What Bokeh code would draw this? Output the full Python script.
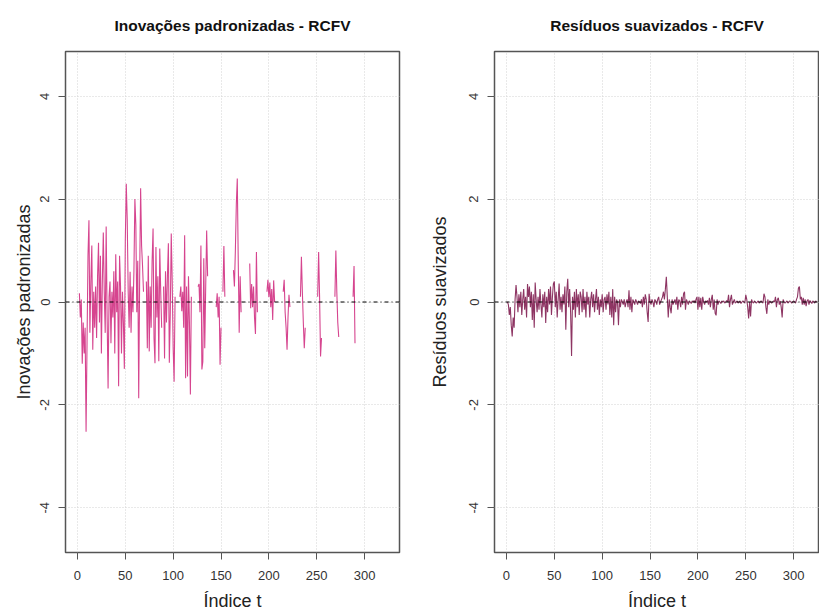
from bokeh.plotting import figure
from bokeh.layouts import row
from bokeh.models import Span, FixedTicker, Range1d, ColumnDataSource
from bokeh.embed import file_html
from bokeh.resources import INLINE

NA = float("nan")

# ---- data -------------------------------------------------------------
x_ticks = [0, 50, 100, 150, 200, 250, 300]
x_tick_labels = ["0", "50", "100", "150", "200", "250", "300"]
y_ticks = [-4, -2, 0, 2, 4]
y_tick_labels = ["-4", "-2", "0", "2", "4"]

t_index = list(range(1, 325))

# standardized innovations (t = 1..324), NaN = missing
innov = (
    [NA, 0.17, -0.3, 0.05, -1.2, -0.4, -1.0, -0.5, -2.52, -0.8] +
    [0.9, 1.59, -0.6, 0.4, 1.1, -0.93, 0.2, -0.5, 0.3, -0.7] +
    [0.5, 1.15, -0.4, 0.9, -1.0, 0.4, 1.35, 0.2, -0.6, 1.47] +
    [-0.3, -1.68, 0.1, 0.4, -0.8, 0.2, -0.3, 0.6, -1.0, 0.93] +
    [-0.2, 0.4, -1.64, 0.9, 0.3, -1.0, 0.2, -0.4, -1.3, 1.2] +
    [2.3, 1.6, 0.2, -0.5, 0.59, -0.6, 0.3, -0.2, 0.6, 2.0] +
    [1.5, -0.2, 0.8, -1.87, 0.5, 2.21, 1.1, 0.7, 0.2, NA] +
    [NA, 0.4, -0.9, 0.9, -0.96, 0.3, -0.5, 0.8, 1.43, -0.7] +
    [-1.19, 1.07, -0.3, 0.5, -1.15, 1.04, 0.2, -0.5, NA, 0.3] +
    [-1.1, 0.6, -0.4, 0.5, 1.14, -1.18, -0.2, 1.33, 0.4, -0.9] +
    [-1.55, 0.1, NA, NA, NA, NA, 0.1, 0.3, -0.18, 0.2] +
    [-0.5, 1.3, -1.48, 0.3, -1.45, 0.5, -0.4, -1.8, 0.1, NA] +
    [NA, NA, NA, NA, NA, 0.3, 0.35, -0.2, 1.1, -1.31] +
    [-1.16, 0.85, -0.9, 0.3, 1.39, 0.5, NA, NA, NA, NA] +
    [NA, NA, NA, NA, -0.1, 0.17, -0.3, 0.1, -1.22, -0.5] +
    [NA, 0.2, 1.09, 0.1, NA, NA, NA, NA, NA, NA] +
    [NA, NA, 0.62, 0.3, 1.0, 1.9, 2.4, 0.8, -0.6, 0.5] +
    [-0.2, NA, NA, NA, NA, NA, NA, NA, NA, 0.75] +
    [-0.12, 0.35, -0.1, 0.3, -0.3, -0.62, 0.97, -0.2, NA, NA] +
    [NA, NA, NA, NA, NA, NA, NA, 0.2, 0.43, 0.1] +
    [0.38, -0.1, 0.25, -0.35, 0.42, 0.0, NA, NA, NA, NA] +
    [NA, NA, NA, NA, 0.2, 0.43, -0.2, -0.5, -0.93, -0.3] +
    [0.14, -0.1, NA, NA, NA, NA, NA, NA, NA, NA] +
    [NA, NA, 0.1, 0.88, 0.2, -0.4, -0.9, -0.5, NA, NA] +
    [NA, NA, NA, NA, NA, NA, NA, NA, NA, NA] +
    [0.1, 0.97, 0.1, -1.06, -0.7, NA, NA, NA, NA, NA] +
    [NA, NA, NA, NA, NA, NA, NA, NA, 0.1, 1.0] +
    [0.2, -0.4, -0.68, NA, NA, NA, NA, NA, NA, NA] +
    [NA, NA, NA, NA, NA, NA, NA, 0.1, 0.7, -0.8] +
    [NA, NA, NA, NA, NA, NA, NA, NA, NA, NA] +
    [NA, NA, NA, NA, NA, NA, NA, NA, NA, NA] +
    [NA, NA, NA, NA, NA, NA, NA, NA, NA, NA] +
    [NA, NA, NA, NA]
)

# smoothed residuals (t = 1..324)
resid = (
    [0.0, -0.05, -0.25, -0.1, -0.45, -0.67, -0.3, -0.5, 0.05, 0.33] +
    [0.1, -0.2, 0.15, -0.1, 0.2, -0.25, 0.05, 0.25, -0.15, 0.1] +
    [-0.3, 0.35, 0.1, 0.3, -0.1, 0.2, -0.35, 0.15, -0.5, 0.38] +
    [0.05, -0.2, 0.1, -0.15, 0.25, -0.05, -0.3, 0.15, -0.1, 0.2] +
    [-0.41, 0.1, -0.2, 0.25, -0.05, 0.3, -0.25, 0.1, 0.35, 0.4] +
    [-0.1, 0.2, -0.3, 0.05, 0.36, -0.15, 0.1, -0.2, 0.15, -0.05] +
    [0.3, -0.54, 0.2, 0.45, -0.1, 0.25, -0.2, -1.05, 0.1, -0.15] +
    [0.2, -0.3, 0.25, -0.1, 0.15, -0.25, 0.2, 0.1, -0.2, 0.25] +
    [-0.15, 0.1, -0.3, 0.2, -0.05, 0.1, -0.3, 0.05, 0.2, -0.1] +
    [0.15, -0.2, 0.05, 0.25, -0.15, 0.1, -0.25, 0.05, -0.1, 0.15] +
    [-0.2, 0.05, 0.1, -0.15, 0.15, -0.05, 0.2, -0.25, 0.1, -0.3] +
    [0.25, -0.45, 0.1, -0.2, 0.05, 0.0, -0.45, 0.05, -0.1, 0.05] +
    [0.0, -0.05, 0.05, -0.1, 0.0, 0.05, -0.1, 0.23, -0.15, 0.1] +
    [-0.2, 0.05, 0.0, -0.05, 0.05, 0.0, -0.05, 0.02, 0.0, -0.03] +
    [0.05, -0.1, 0.1, -0.05, 0.15, 0.05, -0.2, -0.39, 0.16, 0.0] +
    [-0.05, 0.05, 0.0, -0.1, 0.05, 0.02, -0.05, 0.05, 0.1, -0.05] +
    [0.0, 0.05, 0.1, 0.2, 0.05, 0.25, 0.49, 0.1, -0.3, 0.05] +
    [-0.1, -0.22, 0.05, -0.05, 0.0, 0.05, -0.05, 0.1, -0.15, 0.05] +
    [0.02, -0.1, 0.1, -0.05, 0.16, 0.2, -0.15, 0.05, 0.0, -0.05] +
    [0.02, 0.0, -0.03, 0.02, 0.0, 0.03, -0.02, 0.05, 0.1, -0.15] +
    [0.1, -0.1, 0.08, -0.15, 0.1, 0.0, -0.05, 0.02, 0.0, 0.03] +
    [-0.05, 0.08, -0.1, 0.05, 0.14, -0.15, 0.05, -0.22, -0.26, 0.05] +
    [-0.05, 0.02, 0.0, -0.03, 0.02, 0.0, 0.02, -0.02, 0.0, 0.03] +
    [0.0, 0.14, -0.1, 0.05, 0.14, -0.05, 0.0, 0.05, -0.02, 0.0] +
    [0.02, -0.02, 0.0, 0.02, -0.03, 0.0, 0.02, 0.0, -0.02, 0.14] +
    [0.05, -0.1, -0.32, 0.0, -0.28, 0.05, 0.0, -0.02, 0.02, 0.0] +
    [-0.02, 0.0, 0.02, -0.02, 0.0, 0.02, 0.0, -0.02, 0.16, 0.1] +
    [-0.1, -0.23, 0.05, -0.05, 0.02, 0.0, -0.02, 0.0, 0.02, 0.0] +
    [0.1, -0.1, 0.05, 0.08, -0.05, 0.02, -0.1, -0.3, 0.05, 0.0] +
    [-0.02, 0.0, 0.02, -0.02, 0.0, 0.02, 0.0, -0.02, 0.0, 0.02] +
    [0.0, -0.02, 0.05, 0.1, 0.27, 0.3, 0.05, 0.1, -0.05, 0.08] +
    [-0.05, 0.05, -0.08, 0.02, 0.05, -0.05, 0.03, 0.0, -0.03, 0.02] +
    [0.0, -0.02, 0.02, 0.0]
)

FONT = "Liberation Sans"


def make_panel(title, ylabel, y, color, width, min_left, min_right, x_end,
               ylab_standoff):
    p = figure(width=width, height=613, output_backend="svg",
               toolbar_location=None,
               x_range=Range1d(-12.5, x_end), y_range=Range1d(-4.87, 4.87),
               min_border_left=min_left, min_border_right=min_right,
               min_border_top=51, min_border_bottom=60)
    p.background_fill_color = "white"
    p.border_fill_color = "white"
    p.outline_line_color = "#555555"
    p.outline_line_width = 1.5

    p.title.text = title
    p.title.align = "center"
    p.title.vertical_align = "top"
    p.title.text_font = FONT
    p.title.text_font_size = "15.5px"
    p.title.text_font_style = "bold"
    p.title.text_color = "#111111"
    p.title.standoff = 32

    src = ColumnDataSource(dict(t=t_index, v=y))
    p.line("t", "v", source=src, line_color=color, line_width=1.1)

    p.add_layout(Span(location=0, dimension="width", line_color="black",
                      line_width=1, line_dash="4 3 1 3"))

    p.xaxis.ticker = FixedTicker(ticks=x_ticks)
    p.xaxis.major_label_overrides = dict(zip(x_ticks, x_tick_labels))
    p.yaxis.ticker = FixedTicker(ticks=y_ticks)
    p.yaxis.major_label_overrides = dict(zip(y_ticks, y_tick_labels))
    p.yaxis.major_label_orientation = "vertical"

    for ax in (p.xaxis, p.yaxis):
        ax.axis_line_color = None
        ax.major_tick_line_color = "#555555"
        ax.major_tick_out = 7
        ax.major_tick_in = 0
        ax.minor_tick_out = 0
        ax.minor_tick_in = 0
        ax.major_label_text_font = FONT
        ax.major_label_text_font_size = "13px"
        ax.major_label_text_color = "#333333"
        ax.major_label_standoff = 9
        ax.axis_label_text_font = FONT
        ax.axis_label_text_font_size = "18px"
        ax.axis_label_text_font_style = "normal"
        ax.axis_label_text_color = "#222222"

    p.xaxis.major_label_standoff = 11
    p.xaxis.axis_label = "Índice t"
    p.xaxis.axis_label_standoff = 8
    p.yaxis.axis_label = ylabel
    p.yaxis.axis_label_standoff = ylab_standoff

    p.xgrid.ticker = FixedTicker(ticks=x_ticks)
    p.ygrid.ticker = FixedTicker(ticks=y_ticks)
    for g in (p.xgrid, p.ygrid):
        g.grid_line_color = "#d3d3d3"
        g.grid_line_dash = "1 2"
        g.grid_line_width = 1
    return p


p1 = make_panel("Inovações padronizadas - RCFV", "Inovações padronizadas",
                innov, "#d6458f", 410, 65, 11, 336.5, 4)
p2 = make_panel("Resíduos suavizados - RCFV", "Resíduos suavizados",
                resid, "#8e3563", 409, 84, 0, 327.0, 17)

layout = row(p1, p2)
open("out.html", "w").write(file_html(layout, INLINE))
